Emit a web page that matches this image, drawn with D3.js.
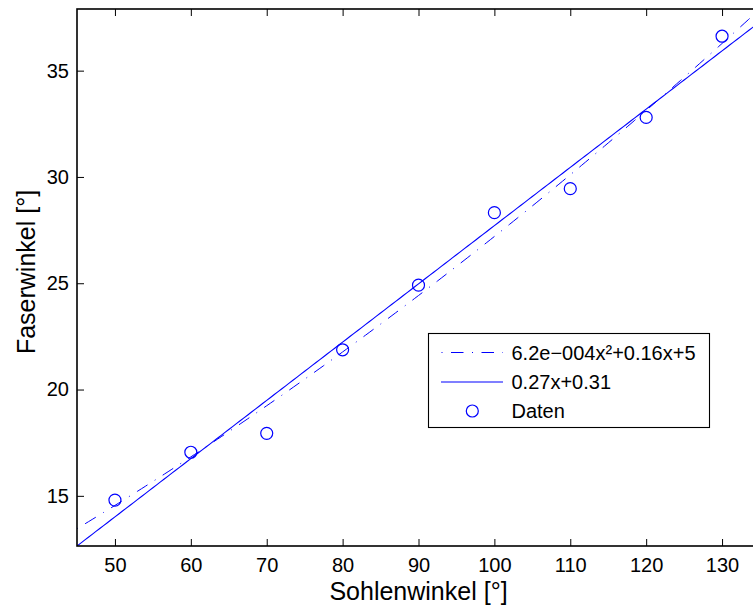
<!DOCTYPE html>
<html>
<head>
<meta charset="utf-8">
<script src="https://cdn.jsdelivr.net/npm/d3@7"></script>
<style>
  html, body { margin: 0; padding: 0; background: #fff; }
  svg { display: block; font-family: "Liberation Sans", Arial, Helvetica, sans-serif; }
</style>
</head>
<body>
<svg id="chart" width="753" height="607"></svg>
<script>
// Measured sole angle vs. fibre angle
const sohlenwinkel = [50, 60, 70, 80, 90, 100, 110, 120, 130];
const faserwinkel  = [14.80, 17.05, 17.94, 21.87, 24.91, 28.32, 29.45, 32.80, 36.62];

// Fit coefficients
const quadCoef = [6.2e-4, 0.16, 5];   // a*x^2 + b*x + c
const linCoef  = [0.274, 0.31];       // m*x + b

const xTicks = [50, 60, 70, 80, 90, 100, 110, 120, 130];
const yTicks = [15, 20, 25, 30, 35];
const xLimits = [45, 135];
const yLimits = [12.64, 37.9];

const legendLabels = ["6.2e\u2212004x\u00b2+0.16x+5", "0.27x+0.31", "Daten"];

const blue = "#0000ff";
const svg = d3.select("#chart");

const plot = { left: 77, right: 760, top: 9, bottom: 546 };

const x = d3.scaleLinear().domain(xLimits).range([plot.left, plot.right]);
const y = d3.scaleLinear().domain(yLimits).range([plot.bottom, plot.top]);

svg.append("defs").append("clipPath").attr("id", "plotClip")
  .append("rect")
  .attr("x", plot.left).attr("y", plot.top)
  .attr("width", plot.right - plot.left).attr("height", plot.bottom - plot.top);

// Fit curves sampled across the x range
const xs = d3.range(xLimits[0], xLimits[1] + 0.001, 0.5);
const quad = v => quadCoef[0] * v * v + quadCoef[1] * v + quadCoef[2];
const lin = v => linCoef[0] * v + linCoef[1];
const line = d3.line().x(d => x(d[0])).y(d => y(d[1]));

const g = svg.append("g").attr("clip-path", "url(#plotClip)");

// dash-dot pattern starting with the dot
g.append("path")
  .datum(xs.map(v => [v, quad(v)]))
  .attr("d", line)
  .attr("fill", "none")
  .attr("stroke", blue)
  .attr("stroke-width", 1)
  .attr("stroke-dasharray", "1,8.5,12.5,8.5");

g.append("path")
  .datum(xs.map(v => [v, lin(v)]))
  .attr("d", line)
  .attr("fill", "none")
  .attr("stroke", blue)
  .attr("stroke-width", 1.1);

g.selectAll("circle.pt")
  .data(sohlenwinkel.map((v, i) => [v, faserwinkel[i]]))
  .join("circle")
  .attr("class", "pt")
  .attr("cx", d => x(d[0]))
  .attr("cy", d => y(d[1]))
  .attr("r", 6)
  .attr("fill", "none")
  .attr("stroke", blue)
  .attr("stroke-width", 1.2);

// Axes (box with ticks on all four sides)
const tickLen = 7;
const axisFont = 20;

const xAxisB = d3.axisBottom(x).tickValues(xTicks).tickSizeInner(-tickLen).tickSizeOuter(0).tickPadding(12);
const xAxisT = d3.axisTop(x).tickValues(xTicks).tickSizeInner(-tickLen).tickSizeOuter(0).tickFormat("");
const yAxisL = d3.axisLeft(y).tickValues(yTicks).tickSizeInner(-tickLen).tickSizeOuter(0).tickPadding(8);
const yAxisR = d3.axisRight(y).tickValues(yTicks).tickSizeInner(-tickLen).tickSizeOuter(0).tickFormat("");

function styleAxis(sel) {
  sel.select(".domain").remove();
  sel.selectAll(".tick line").attr("stroke", "#000").attr("stroke-width", 1);
  sel.selectAll(".tick text")
    .attr("fill", "#000")
    .style("font-size", axisFont + "px")
    .style("font-family", "'Liberation Sans', Arial, sans-serif");
}

svg.append("g").attr("transform", `translate(0,${plot.bottom})`).call(xAxisB).call(styleAxis);
svg.append("g").attr("transform", `translate(0,${plot.top})`).call(xAxisT).call(styleAxis);
svg.append("g").attr("transform", `translate(${plot.left},0)`).call(yAxisL).call(styleAxis);
svg.append("g").attr("transform", `translate(${plot.right},0)`).call(yAxisR).call(styleAxis);

svg.append("rect")
  .attr("x", plot.left).attr("y", plot.top)
  .attr("width", plot.right - plot.left).attr("height", plot.bottom - plot.top)
  .attr("fill", "none").attr("stroke", "#000").attr("stroke-width", 1.6);

// Axis titles
svg.append("text")
  .attr("x", (plot.left + plot.right) / 2)
  .attr("y", 600)
  .attr("text-anchor", "middle")
  .style("font-size", "25px")
  .text("Sohlenwinkel [°]");

svg.append("text")
  .attr("transform", `translate(35,${272}) rotate(-90)`)
  .attr("text-anchor", "middle")
  .style("font-size", "25px")
  .text("Faserwinkel [°]");

// Legend
const leg = svg.append("g");
leg.append("rect")
  .attr("x", 428.5).attr("y", 333.5).attr("width", 281).attr("height", 94)
  .attr("fill", "#fff").attr("stroke", "#000").attr("stroke-width", 1.1);

const rowY = [352.5, 382, 411];
leg.append("line")
  .attr("x1", 441.5).attr("x2", 503).attr("y1", rowY[0]).attr("y2", rowY[0])
  .attr("stroke", blue).attr("stroke-width", 1)
  .attr("stroke-dasharray", "1,8.5,12.5,8.5");
leg.append("line")
  .attr("x1", 441).attr("x2", 503).attr("y1", rowY[1]).attr("y2", rowY[1])
  .attr("stroke", blue).attr("stroke-width", 1.1);
leg.append("circle")
  .attr("cx", 472.3).attr("cy", rowY[2]).attr("r", 6)
  .attr("fill", "none").attr("stroke", blue).attr("stroke-width", 1.2);

leg.selectAll("text.lab")
  .data(legendLabels)
  .join("text")
  .attr("class", "lab")
  .attr("x", 511.5)
  .attr("y", (d, i) => rowY[i] + 7)
  .style("font-size", "20px")
  .text(d => d);
</script>
</body>
</html>
